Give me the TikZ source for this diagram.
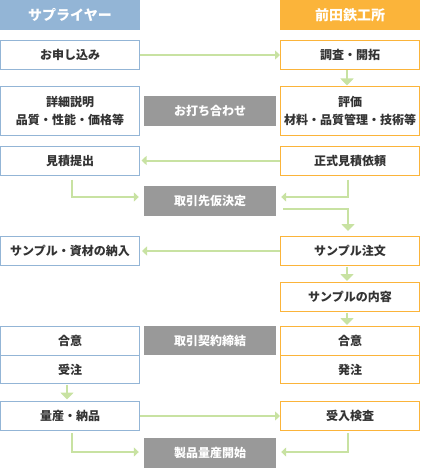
\documentclass[tikz,border=0pt]{standalone}
\usepackage{fontspec}
\setmainfont{Noto Sans CJK JP}
\usetikzlibrary{arrows.meta,calc}
\definecolor{hblue}{RGB}{147,181,214}
\definecolor{horange}{RGB}{251,180,58}
\definecolor{agreen}{RGB}{200,226,162}
\definecolor{gbox}{RGB}{153,153,153}
\definecolor{txt}{RGB}{51,51,51}
\tikzset{
  head/.style={minimum width=140pt,minimum height=30pt,inner sep=0pt,text=white,font=\fontsize{14}{16}\selectfont\bfseries},
  lbox/.style={draw=hblue,line width=1pt,fill=white,minimum width=139pt,minimum height=29pt,inner sep=0pt,text=txt,align=center,font=\fontsize{12}{18}\selectfont\bfseries},
  rbox/.style={lbox,draw=horange},
  gray/.style={fill=gbox,minimum width=132pt,minimum height=30pt,inner sep=0pt,text=white,font=\fontsize{12}{14}\selectfont\bfseries},
  harr/.style={draw=agreen,line width=2pt,-{Triangle[length=5pt,width=9pt]}},
  varr/.style={draw=agreen,line width=2pt,-{Triangle[length=7pt,width=13pt]}},
}
\begin{document}
\begin{tikzpicture}[x=1pt,y=-1pt]
\useasboundingbox (0,0) rectangle (420,468);
% headers
\node[head,fill=hblue] (hL) at (70,15) {サプライヤー};
\node[head,fill=horange] (hR) at (350,15) {前田鉄工所};
% row 1
\node[lbox] (L1) at (70,55) {お申し込み};
\node[rbox] (R1) at (350,55) {調査・開拓};
% row 2
\node[lbox,minimum height=48pt] (L2) at (70,111) {詳細説明\\品質・性能・価格等};
\node[gray] (G1) at (210,111) {お打ち合わせ};
\node[rbox,minimum height=48pt] (R2) at (350,111) {評価\\材料・品質管理・技術等};
% row 3
\node[lbox] (L3) at (70,160.5) {見積提出};
\node[rbox] (R3) at (350,160.5) {正式見積依頼};
\node[gray] (G2) at (210,201) {取引先仮決定};
% row 4
\node[lbox] (L4) at (70,251) {サンプル・資材の納入};
\node[rbox] (R4) at (350,251) {サンプル注文};
\node[rbox] (R5) at (350,297) {サンプルの内容};
% row 6
\node[lbox] (L6) at (70,341) {合意};
\node[lbox,minimum height=28pt] (L7) at (70,369.5) {受注};
\node[rbox] (R6) at (350,341) {合意};
\node[rbox,minimum height=28pt] (R7) at (350,369.5) {発注};
\node[gray,minimum height=29pt] (G3) at (210,340.5) {取引契約締結};
% row 8
\node[lbox] (L8) at (70,416) {量産・納品};
\node[rbox] (R8) at (350,416) {受入検査};
\node[gray] (G4) at (210,453) {製品量産開始};
% arrows
\draw[harr] (L1.east) -- (R1.west);
\draw[varr] ($(R1.south)+(-3,0.5)$) -- ($(R2.north)+(-3,-1)$);
\draw[harr] (R3.west) -- ($(L3.east)+(1.5,0)$);
\draw[harr] ($(L3.south west)+(72,4)$) |- ($(G2.west)+(-5,-4)$);
\draw[harr] ($(R3.south west)+(68,4)$) |- ($(G2.east)+(5,-4)$);
\draw[varr] ($(G2.east)+(7,8)$) -| ($(R4.north)+(-2,-5)$);
\draw[harr] (R4.west) -- ($(L4.east)+(2,0)$);
\draw[varr] ($(R4.south)+(-3,0.5)$) -- ($(R5.north)+(-3,-1)$);
\draw[varr] ($(R5.south)+(-3,0.5)$) -- ($(R6.north)+(-3,-1)$);
\draw[varr] ($(L7.south)+(-3,0.5)$) -- ($(L8.north)+(-3,-1.5)$);
\draw[harr] (L8.east) -- (R8.west);
\draw[harr] ($(L8.south west)+(72,2)$) |- ($(G4.west)+(-5,-1)$);
\draw[harr] ($(R8.south west)+(68,2)$) |- ($(G4.east)+(5,-1)$);
\end{tikzpicture}
\end{document}
